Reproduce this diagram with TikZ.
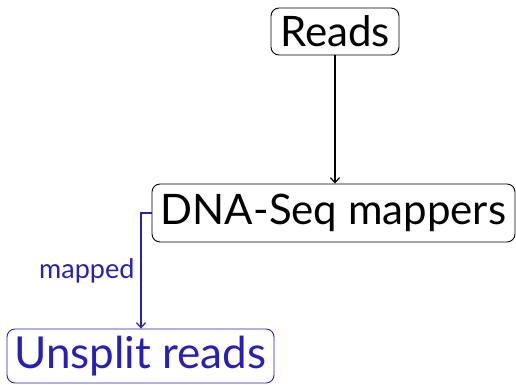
\documentclass[tikz,border=0pt]{standalone}
\usepackage{fontspec}
\setmainfont{Lato}
\usetikzlibrary{arrows.meta}
\definecolor{mapblue}{RGB}{40,32,180}
\tikzset{
  box/.style={draw, rounded corners=8pt, line width=0.9pt, inner sep=2pt, align=center},
  flow/.style={line width=1.2pt, -{Straight Barb[length=5pt,width=9pt]}},
}
\begin{document}
\begin{tikzpicture}[x=1pt,y=1pt]
\useasboundingbox (0,0) rectangle (516,-384);
\node[box, minimum width=128pt, minimum height=47pt, font=\fontsize{42}{48}\selectfont]
  (reads) at (335,-31.5) {Reads};
\node[box, minimum width=363pt, minimum height=58pt, font=\fontsize{42}{48}\selectfont]
  (dna) at (333.5,-213) {DNA-Seq mappers};
\node[box, draw=mapblue, text=mapblue, minimum width=267pt, minimum height=54pt, font=\fontsize{44}{50}\selectfont]
  (unsplit) at (140.5,-356) {Unsplit reads};
\coordinate (bend) at (141,-213);
\draw[flow] (reads.south) -- (dna.north -| reads.south);
\draw[flow, mapblue] (dna.west) -- (bend) -- (bend |- unsplit.north)
  node[midway, left, text=mapblue, font=\fontsize{27}{32}\selectfont, inner sep=6pt] {mapped};
\end{tikzpicture}
\end{document}
